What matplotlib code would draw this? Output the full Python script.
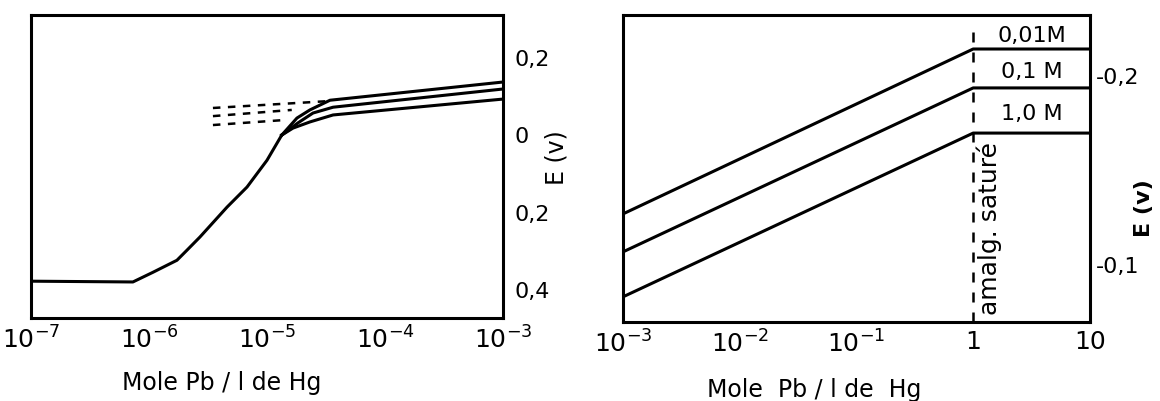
import matplotlib
matplotlib.use("Agg")
import matplotlib.pyplot as plt
import numpy as np

# ---- left panel data (E axis drawn with negative values upward) ----
main_logx = [-7.0, -6.136, -5.966, -5.763, -5.678, -5.568, -5.339, -5.169, -5.0, -4.875]
main_E = [0.377, 0.379, 0.354, 0.323, 0.297, 0.263, 0.186, 0.134, 0.065, 0.0]

upper_logx = [-4.875, -4.746, -4.636, -4.466, -3.0]
upper_E = [0.0, -0.044, -0.065, -0.090, -0.137]
middle_logx = [-4.875, -4.74, -4.61, -4.44, -3.0]
middle_E = [0.0, -0.031, -0.057, -0.072, -0.119]
lower_logx = [-4.875, -4.78, -4.636, -4.44, -3.0]
lower_E = [0.0, -0.018, -0.034, -0.052, -0.093]

dash_start_logx = -5.458
dash_start_E = [-0.070, -0.049, -0.026]
dash_end_logx = [-4.466, -4.79, -4.85]
dash_end_E = [-0.088, -0.065, -0.039]

left_xticks = [1e-7, 1e-6, 1e-5, 1e-4, 1e-3]
left_xlabels = [r"$10^{-7}$", r"$10^{-6}$", r"$10^{-5}$", r"$10^{-4}$", r"$10^{-3}$"]
left_yticks = [-0.2, 0.0, 0.2, 0.4]
left_ylabels = ["0,2", "0", "0,2", "0,4"]

# ---- right panel data ----
right_logx = [-3.0, 0.0, 1.0]
conc_labels = ["0,01M", "0,1 M", "1,0 M"]
conc_E = [
    [-0.127, -0.2143, -0.2143],
    [-0.1069, -0.1937, -0.1937],
    [-0.0831, -0.1698, -0.1698],
]
sat_x = 1.0

right_xticks = [1e-3, 1e-2, 1e-1, 1, 10]
right_xlabels = [r"$10^{-3}$", r"$10^{-2}$", r"$10^{-1}$", "1", "10"]
right_yticks = [-0.2, -0.1]
right_ylabels = ["-0,2", "-0,1"]

LW = 2.2

fig = plt.figure(figsize=(11.6, 4.01), dpi=100)
ax1 = fig.add_axes([0.0267, 0.207, 0.4069, 0.7556])
ax2 = fig.add_axes([0.537, 0.197, 0.4026, 0.7656])

# left
ax1.plot(10 ** np.array(main_logx), main_E, color="black", lw=LW)
for lx, e in [(upper_logx, upper_E), (middle_logx, middle_E), (lower_logx, lower_E)]:
    ax1.plot(10 ** np.array(lx), e, color="black", lw=LW)
for e0, lx1, e1 in zip(dash_start_E, dash_end_logx, dash_end_E):
    ax1.plot([10 ** dash_start_logx, 10 ** lx1], [e0, e1], color="black", lw=1.8,
             ls=(0, (3, 3)))

ax1.set_xscale("log")
ax1.set_xlim(1e-7, 1e-3)
ax1.set_ylim(0.472, -0.310)
ax1.set_xticks(left_xticks)
ax1.set_xticklabels(left_xlabels, fontsize=18)
ax1.xaxis.set_minor_locator(matplotlib.ticker.NullLocator())
ax1.yaxis.tick_right()
ax1.set_yticks(left_yticks)
ax1.set_yticklabels(left_ylabels, fontsize=16)
ax1.tick_params(axis="both", length=0)
ax1.tick_params(axis="x", pad=6)
ax1.tick_params(axis="y", pad=8)
ax1.text(0.405, -0.215, "Mole Pb / l de Hg", transform=ax1.transAxes, fontsize=17,
         ha="center", va="center")
ax1.text(1.114, 0.53, "E (v)", transform=ax1.transAxes, fontsize=17, rotation=90,
         ha="center", va="center")

# right
for e in conc_E:
    ax2.plot(10 ** np.array(right_logx), e, color="black", lw=LW)
ax2.axvline(sat_x, ymin=0, ymax=0.97, color="black", lw=1.8, ls=(0, (4, 4)))

ax2.set_xscale("log")
ax2.set_xlim(1e-3, 10)
ax2.set_ylim(-0.0698, -0.2323)
ax2.set_xticks(right_xticks)
ax2.set_xticklabels(right_xlabels, fontsize=18)
ax2.xaxis.set_minor_locator(matplotlib.ticker.NullLocator())
ax2.yaxis.tick_right()
ax2.set_yticks(right_yticks)
ax2.set_yticklabels(right_ylabels, fontsize=16)
ax2.tick_params(axis="both", length=0)
ax2.tick_params(axis="x", pad=6)
ax2.tick_params(axis="y", pad=4)

levels = [ax2.get_ylim()[1]] + [e[-1] for e in conc_E]
label_x = np.sqrt(sat_x * 10)
for i, lab in enumerate(conc_labels):
    ymid = (levels[i] + levels[i + 1]) / 2 + 0.002
    ax2.text(label_x, ymid, lab, fontsize=16, ha="center", va="center")

ax2.text(sat_x * 1.06, -0.0735, "amalg. saturé", rotation=90, fontsize=18,
         ha="left", va="bottom")
ax2.text(0.41, -0.22, "Mole  Pb / l de  Hg", transform=ax2.transAxes, fontsize=17,
         ha="center", va="center")
ax2.text(1.115, 0.37, "E (v)", transform=ax2.transAxes, fontsize=16, rotation=90,
         ha="center", va="center", fontweight="bold")

for ax in (ax1, ax2):
    for s in ax.spines.values():
        s.set_linewidth(2.2)

fig.savefig("out.png", dpi=100)
